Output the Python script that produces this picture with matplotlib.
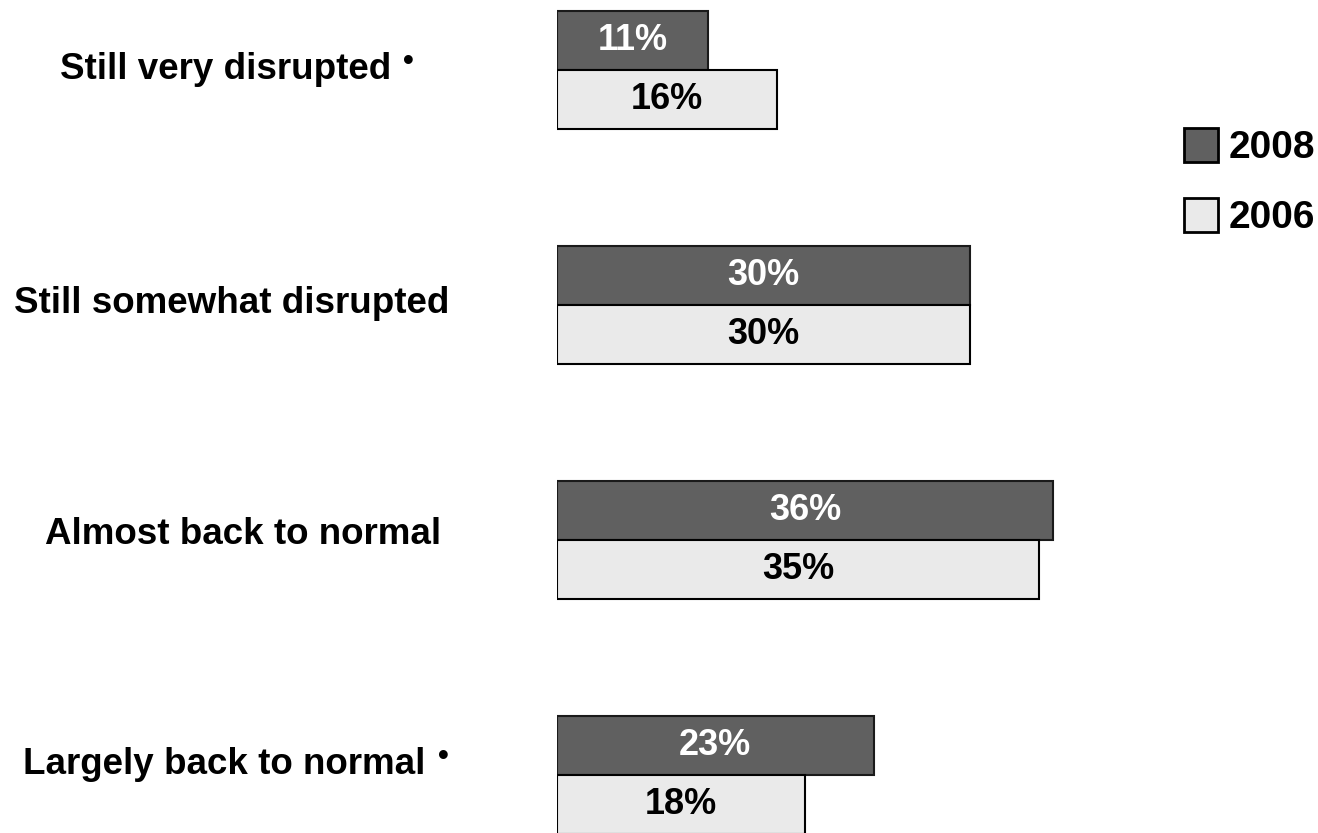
import matplotlib.pyplot as plt
from matplotlib.patches import Rectangle
import numpy as np

plt.rcParams['font.family'] = ['Liberation Sans', 'DejaVu Sans']

categories = ['Still very disrupted', 'Still somewhat disrupted',
              'Almost back to normal', 'Largely back to normal']
marked = [True, False, False, True]   # categories with the raised dot
vals_2008 = [11, 30, 36, 23]
vals_2006 = [16, 30, 35, 18]
series_names = ['2008', '2006']

W, H = 1318, 833
fig = plt.figure(figsize=(W / 100, H / 100), dpi=100)

def fx(px):
    return px / W

def fy(py):
    return 1 - py / H

# axes: x=0 at pixel 557, 13.77 px per percent
left_px, right_px = 557, 1150
ax = fig.add_axes([fx(left_px), 0, (right_px - left_px) / W, 1])
ax.set_xlim(0, (right_px - left_px) / 13.77)
ax.set_ylim((H - 70) / 235, -70 / 235)
ax.axis('off')

y = np.arange(len(categories))
h = 59 / 235
ax.barh(y - h / 2, vals_2008, height=h, color='#606060', edgecolor='#1a1a1a', linewidth=1.5)
ax.barh(y + h / 2, vals_2006, height=h, color='#eaeaea', edgecolor='black', linewidth=1.5)

for i in range(len(categories)):
    ax.text(vals_2008[i] / 2, y[i] - h / 2, f'{vals_2008[i]}%', ha='center', va='center',
            color='white', fontsize=26, fontweight='bold')
    ax.text(vals_2006[i] / 2, y[i] + h / 2, f'{vals_2006[i]}%', ha='center', va='center',
            color='black', fontsize=26, fontweight='bold')

# category labels (left x and baseline in pixels)
label_x_px = [60, 14, 45, 23]
label_base_px = [79, 313, 544, 774]
dot_x_px = [408, None, None, 443]
for lab, lx, lb, m, dx in zip(categories, label_x_px, label_base_px, marked, dot_x_px):
    fig.text(fx(lx), fy(lb), lab, ha='left', va='baseline', fontsize=26.5, fontweight='bold')
    if m:
        fig.text(fx(dx), fy(lb - 9), '\u2022', ha='center', va='baseline',
                 fontsize=22, fontweight='bold')

# legend
sq = 34
for name, color, top in zip(series_names, ['#606060', '#eaeaea'], [128, 198]):
    fig.patches.append(Rectangle((fx(1184), fy(top + sq)), sq / W, sq / H,
                                 transform=fig.transFigure, facecolor=color,
                                 edgecolor='black', linewidth=2))
    fig.text(fx(1229), fy(top + 30), name, ha='left', va='baseline',
             fontsize=28, fontweight='bold')

fig.savefig('out.png', dpi=100)
